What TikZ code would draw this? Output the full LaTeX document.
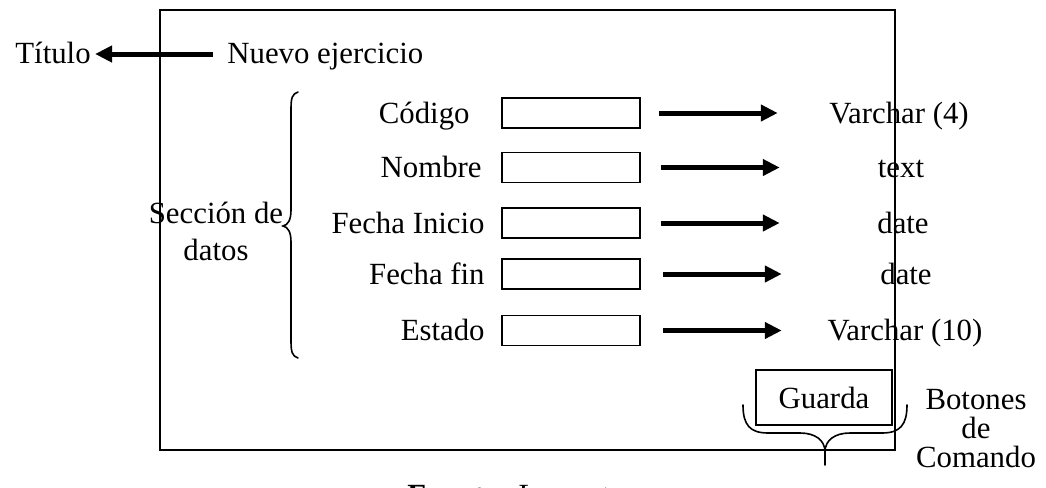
\documentclass[tikz,border=0pt]{standalone}
\usepackage{fontspec}
\setmainfont{Liberation Serif}
\usetikzlibrary{arrows.meta, positioning, calc}

\begin{document}
\begin{tikzpicture}[x=0.5pt, y=-0.5pt,
  font=\fontsize{15.4}{18.5}\selectfont,
  txt/.style={inner sep=0pt},
  campo/.style={draw, line width=0.75pt, minimum width=69pt, minimum height=15pt, inner sep=0pt},
  flecha/.style={line width=2.5pt, -{Triangle[length=8.5pt, width=8pt]}},
  llave/.style={line width=0.8pt, line cap=round}]
% Page area
\useasboundingbox (0,0) rectangle (1046,488);
\clip (0,0) rectangle (1046,488);
% Window frame
\draw[line width=1pt] (160,10) rectangle (895,450);
% Title
\node[txt, anchor=base west] (titulo) at (15,63) {Título};
\node[txt, anchor=base west] (nuevo) at (227,63) {Nuevo ejercicio};
\draw[flecha] ($(nuevo.base west)+(-14,-9)$) -- ($(titulo.base east)+(4,-9)$);
% Fields, boxes and data types
\foreach \y/\lab/\lx/\typ/\tx/\ax [count=\i] in {
  113/Código/470/Varchar (4)/899/658,
  167.5/Nombre/482/text/901/660,
  223/Fecha Inicio/485/date/903/660,
  274/Fecha fin/485/date/906/662,
  330.5/Estado/485/Varchar (10)/905/662
} {
  \node[txt, anchor=base east] (lab\i) at (\lx,\y+10) {\lab};
  \node[campo] (campo\i) at (571,\y) {};
  \node[txt, anchor=base] (tipo\i) at (\tx,\y+10) {\typ};
  \draw[flecha] ($(campo\i.east)+(\ax-640,0)$) -- ($(campo\i.east)+(\ax-521,0)$);
}
% Data section brace
\draw[llave] (298,92) .. controls (292,94) and (291,98) .. (291,110) -- (291,210)
  .. controls (291,220) and (288,225) .. (283,226)
  .. controls (288,227) and (291,232) .. (291,242) -- (291,340)
  .. controls (291,352) and (292,356) .. (298,358);
\node[txt, align=center] (seccion) at (216,231) {Sección de\\datos};
% Command buttons
\node[draw, line width=1pt, minimum width=68pt, minimum height=27.5pt, inner sep=0pt] (guarda) at (824,397.5) {Guarda};
\draw[llave] (743,405) .. controls (743,425) and (750,433) .. (768,433) -- (800,433)
  .. controls (815,433) and (825,440) .. (825,452) -- (825,465);
\draw[llave] (907,405) .. controls (907,425) and (900,433) .. (882,433) -- (850,433)
  .. controls (835,433) and (825,440) .. (825,452);
\node[txt, align=center, font=\fontsize{15.4}{14.5}\selectfont] (botones) at (976,429) {Botones\\de\\Comando};
% Source
\node[txt, anchor=base west] (fuente) at (407,505) {\textbf{Fuente:} Los autores};
\end{tikzpicture}
\end{document}
